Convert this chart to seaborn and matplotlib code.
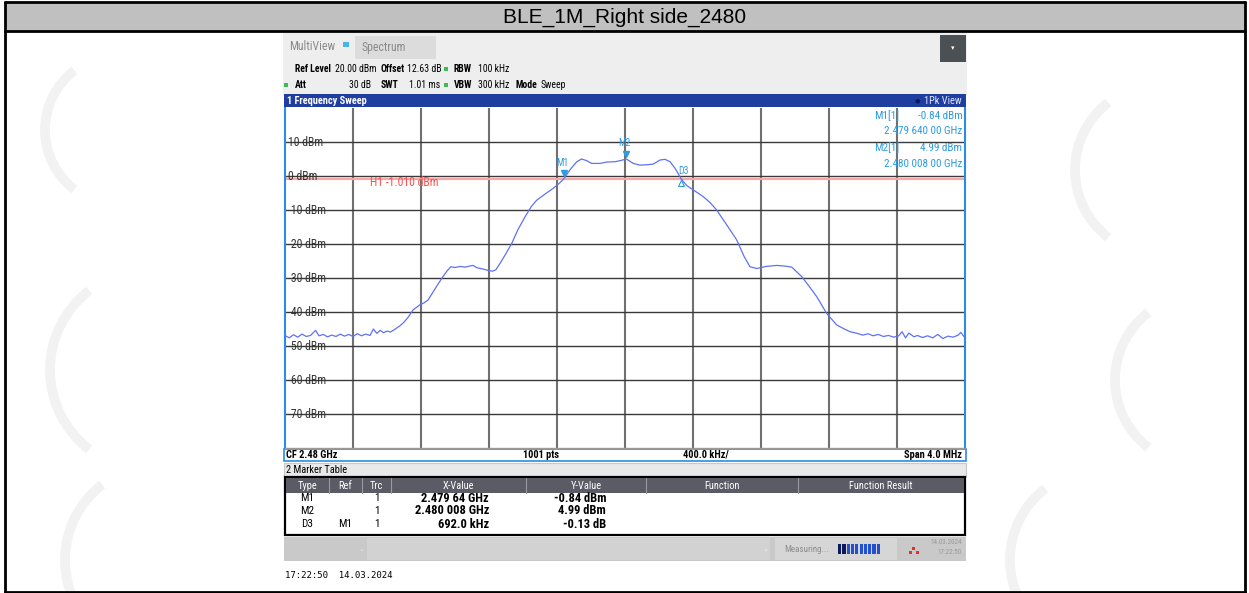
import matplotlib
matplotlib.use('Agg')
import matplotlib.pyplot as plt
import seaborn as sns
from matplotlib.patches import Rectangle, Arc
from matplotlib.lines import Line2D

# trace: offset from CF 2.48 GHz in MHz, level in dBm
trace_offset_mhz = [
    -2.00, -1.975, -1.95, -1.925, -1.90, -1.875, -1.85, -1.82, -1.80, -1.775,
    -1.75, -1.725, -1.70, -1.675, -1.65, -1.625, -1.60, -1.575, -1.55, -1.525,
    -1.50, -1.48, -1.46, -1.44, -1.42, -1.40, -1.38, -1.36,
    -1.325, -1.30, -1.275, -1.247, -1.225, -1.208, -1.185, -1.159, -1.13, -1.10,
    -1.071, -1.045, -1.024, -1.00, -0.97, -0.94, -0.915, -0.894, -0.87, -0.84,
    -0.81, -0.78, -0.76, -0.735, -0.70, -0.666, -0.63, -0.588, -0.55, -0.519,
    -0.47, -0.422, -0.39, -0.36, -0.324, -0.284, -0.255, -0.225, -0.196, -0.147,
    -0.108, -0.059, -0.029, 0.008, 0.049, 0.088, 0.128, 0.166, 0.206, 0.235,
    0.265, 0.294, 0.332, 0.365, 0.402, 0.461, 0.50, 0.539, 0.60, 0.657,
    0.70, 0.735, 0.775, 0.83, 0.892, 0.94, 0.981, 1.04, 1.09, 1.128,
    1.186, 1.245, 1.29, 1.324,
    1.36, 1.40, 1.43, 1.46, 1.49, 1.52, 1.55, 1.58, 1.61, 1.63,
    1.65, 1.67, 1.70, 1.72, 1.75, 1.78, 1.81, 1.84, 1.87, 1.90,
    1.93, 1.96, 1.975, 2.00,
]
trace_dbm = [
    -46.9, -47.6, -46.7, -47.4, -46.5, -47.2, -46.9, -45.4, -47.0, -46.6,
    -47.3, -46.8, -47.2, -46.5, -47.1, -46.6, -47.2, -46.4, -47.0, -46.5,
    -46.9, -45.0, -46.3, -45.4, -46.1, -45.6, -45.9, -45.3,
    -44.1, -43.0, -41.5, -39.4, -38.6, -37.9, -37.4, -36.5, -34.2, -31.8,
    -29.6, -27.8, -26.7, -26.9, -26.6, -26.8, -26.5, -26.3, -27.0, -27.3,
    -27.7, -28.0, -27.6, -25.7, -22.8, -19.8, -15.8, -12.0, -8.9, -7.1,
    -5.3, -3.6, -2.3, -0.84, 1.8, 4.2, 5.0, 4.5, 3.7, 3.7,
    4.1, 4.2, 4.5, 4.99, 3.7, 3.2, 3.3, 3.5, 4.7, 4.9,
    4.2, 2.3, -0.97, -2.9, -4.1, -6.1, -7.8, -10.0, -14.5, -18.8,
    -23.6, -26.7, -27.2, -26.6, -26.3, -26.5, -26.8, -29.6, -32.9, -35.5,
    -40.4, -43.8, -45.0, -45.8,
    -46.2, -46.8, -46.4, -47.0, -46.6, -47.2, -46.9, -47.4, -47.0, -45.8,
    -47.6, -46.2, -47.3, -46.9, -47.5, -47.0, -47.6, -46.6, -47.8, -47.1,
    -47.4, -46.8, -46.0, -47.6,
]

level_ticks = [10, 0, -10, -20, -30, -40, -50, -60, -70]
h1_level = -1.010

marker_names = ['M1', 'M2', 'D3']
marker_offset = [-0.36, 0.008, 0.332]
marker_dbm = [-0.84, 4.99, -0.97]

table_type = ['M1', 'M2', 'D3']
table_ref = ['', '', 'M1']
table_trc = ['1', '1', '1']
table_x = ['2.479 64 GHz', '2.480 008 GHz', '692.0 kHz']
table_y = ['-0.84 dBm', '4.99 dBm', '-0.13 dB']
table_head = ['Type', 'Ref', 'Trc', 'X-Value', 'Y-Value', 'Function', 'Function Result']

sns.set_theme(style='white')
narrow = ['Roboto Condensed', 'Archivo Narrow', 'Liberation Sans Narrow', 'Roboto', 'DejaVu Sans']
plt.rcParams['font.family'] = narrow

W, H = 1249, 593
fig = plt.figure(figsize=(W / 100, H / 100), dpi=100)
fig.patch.set_facecolor('white')


def box(x0, y0, x1, y1, fc='none', ec='none', lw=0, z=1):
    fig.add_artist(Rectangle((x0 / W, 1 - y1 / H), (x1 - x0) / W, (y1 - y0) / H,
                             transform=fig.transFigure, fc=fc, ec=ec, lw=lw, zorder=z))


def line(x0, y0, x1, y1, color, lw=1.0, z=2):
    fig.add_artist(Line2D([x0 / W, x1 / W], [1 - y0 / H, 1 - y1 / H],
                          transform=fig.transFigure, color=color, lw=lw, zorder=z))


def label(x, y, s, size=7, color='black', ha='left', weight='normal', z=6, **kw):
    fig.text(x / W, 1 - y / H, s, fontsize=size, color=color, ha=ha, va='center',
             fontweight=weight, zorder=z, **kw)


# faint watermark swooshes (logo shapes, no text)
for cx, cy, d in [(120, 130, 150), (150, 370, 200), (160, 560, 190),
                  (1160, 170, 170), (1200, 380, 170), (1100, 560, 180)]:
    fig.add_artist(Arc((cx / W, 1 - cy / H), d / W, d / H, angle=0, theta1=110, theta2=250,
                       transform=fig.transFigure, color='#f2f2f2', lw=7, zorder=0))

# outer frame + title bar
box(5, 2, 1245, 31, fc='#c0c0c0', z=1)
line(5, 2, 1245, 2, 'black', 2)
line(5, 31, 1245, 31, 'black', 2)
line(5, 2, 5, 593, 'black', 2)
line(1245, 2, 1245, 593, 'black', 2)
line(5, 592, 1245, 592, 'black', 2)
label(625, 17, 'BLE_1M_Right side_2480', size=15, ha='center',
      family=['Liberation Sans', 'DejaVu Sans'])

# instrument header
box(283, 33, 967, 95, fc='#eeeeee')
label(289, 47, 'MultiView', size=8.5, color='#8a8a8a')
box(343, 42, 349, 47, fc='#4ab3ea')
box(355, 36, 436, 59, fc='#dcdcdc')
label(362, 47, 'Spectrum', size=8.5, color='#8a8a8a')
box(940, 35, 966, 62, fc='#4b5054')
label(953, 48, '▾', size=5, color='white', ha='center', family=['DejaVu Sans'])

hs = 7
label(295, 69, 'Ref Level', size=hs, weight='bold')
label(335, 69, '20.00 dBm', size=hs)
label(381, 69, 'Offset', size=hs, weight='bold')
label(407, 69, '12.63 dB', size=hs)
box(444, 67, 448, 71, fc='#3cba54')
label(454, 69, 'RBW', size=hs, weight='bold')
label(478, 69, '100 kHz', size=hs)
box(284, 83, 288, 87, fc='#3cba54')
label(295, 85, 'Att', size=hs, weight='bold')
label(371, 85, '30 dB', size=hs, ha='right')
label(381, 85, 'SWT', size=hs, weight='bold')
label(409, 85, '1.01 ms', size=hs)
box(444, 83, 448, 87, fc='#3cba54')
label(454, 85, 'VBW', size=hs, weight='bold')
label(478, 85, '300 kHz', size=hs)
label(515, 85, 'Mode', size=hs, weight='bold')
label(541, 85, 'Sweep', size=hs)

# window title bar
box(284, 94, 966, 107, fc='#1f3ea0')
label(287, 100.5, '1 Frequency Sweep', size=7.5, color='white', weight='bold')
label(962, 100.5, '1Pk View', size=7.5, color='#dfe6ff', ha='right')
label(917, 100.5, '●', size=4.5, color='#0a1a60', ha='center', family=['DejaVu Sans'])

# spectrum axes
ax = fig.add_axes([285 / W, 1 - 448 / H, 680 / W, 340 / H])
ax.set_zorder(5)
ax.set_xlim(-2, 2)
ax.set_ylim(-80, 20)
ax.set_xticks([])
ax.set_yticks([])
for i in range(1, 10):
    ax.axvline(-2 + 0.4 * i, color='#707070', lw=1.5, zorder=1)
for v in level_ticks:
    ax.axhline(v, color='#3a3a3a', lw=1.0, zorder=1)
    ax.text(-1.982, v, f'{v} dBm', fontsize=8.5, color='#333333', va='center', zorder=3)
ax.axhline(h1_level, color='#f6a8a8', lw=1.6, zorder=2)
ax.text(-1.5, h1_level - 0.9, f'H1 {h1_level:.3f} dBm', fontsize=8.5, color='#ff4f4f',
        va='center', zorder=3)

sns.lineplot(x=trace_offset_mhz, y=trace_dbm, ax=ax, color='#5f72f3', lw=0.9,
             estimator=None, sort=False, zorder=4)

mk_color = '#2d9be0'
for name, xo, yv in zip(marker_names, marker_offset, marker_dbm):
    if name.startswith('M'):
        ax.plot(xo, yv + 1.6, marker='v', ms=4, color=mk_color, zorder=5)
        ax.text(xo - 0.01, yv + 4.6, name, fontsize=7, color=mk_color, ha='center',
                va='center', zorder=5)
    else:
        ax.plot(xo, yv - 1.2, marker='^', ms=4, mfc='none', mec=mk_color, mew=0.8, zorder=5)
        ax.text(xo + 0.01, yv + 2.4, name, fontsize=7, color=mk_color, ha='center',
                va='center', zorder=5)

# marker readout in the corner
ax.text(0.866, 0.976, 'M1[1]', transform=ax.transAxes, fontsize=8, color=mk_color, va='center')
ax.text(0.996, 0.976, '-0.84 dBm', transform=ax.transAxes, fontsize=8, color=mk_color,
        va='center', ha='right')
ax.text(0.996, 0.932, '2.479 640 00 GHz', transform=ax.transAxes, fontsize=8, color=mk_color,
        va='center', ha='right')
ax.text(0.866, 0.882, 'M2[1]', transform=ax.transAxes, fontsize=8, color=mk_color, va='center')
ax.text(0.996, 0.882, '4.99 dBm', transform=ax.transAxes, fontsize=8, color=mk_color,
        va='center', ha='right')
ax.text(0.996, 0.835, '2.480 008 00 GHz', transform=ax.transAxes, fontsize=8, color=mk_color,
        va='center', ha='right')

ax.spines['top'].set_visible(False)
ax.spines['left'].set_color('#2a8ce8')
ax.spines['left'].set_linewidth(1.5)
ax.spines['right'].set_color('#2a8ce8')
ax.spines['right'].set_linewidth(1.5)
ax.spines['bottom'].set_color('#9a9a9a')
ax.spines['bottom'].set_linewidth(1.0)

# footer of the sweep window
box(284, 449, 966, 461, fc='white', ec='#2a8ce8', lw=1.2)
label(286, 455, 'CF 2.48 GHz', size=7.5, weight='bold')
label(523, 455, '1001 pts', size=7.5, weight='bold')
label(683, 455, '400.0 kHz/', size=7.5, weight='bold')
label(962, 455, 'Span 4.0 MHz', size=7.5, weight='bold', ha='right')

# marker table
box(284, 463, 966, 477, fc='#e9e9e9', ec='#c8c8c8', lw=0.8)
label(286, 470, '2 Marker Table', size=7.5)
box(285, 477, 965, 535, fc='white', ec='black', lw=1.6)
box(286, 478, 964, 493, fc='#5b5b66')
col_edges = [286, 329, 362, 391, 526, 646, 798, 964]
for xe in col_edges[1:-1]:
    line(xe, 478, xe, 493, '#9a9aa2', 0.8, z=3)
for name, x0, x1 in zip(table_head, col_edges[:-1], col_edges[1:]):
    label((x0 + x1) / 2, 486, name, size=7.5, color='white', ha='center')
for i in range(3):
    yr = 498 + 13 * i
    label(307, yr, table_type[i], size=8, ha='center')
    label(345, yr, table_ref[i], size=8, ha='center')
    label(377, yr, table_trc[i], size=8, ha='center')
    label(489, yr, table_x[i], size=9, ha='right', weight='bold')
    label(606, yr, table_y[i], size=9, ha='right', weight='bold')

# status bar
box(284, 537, 966, 561, fc='#c9c9c9')
box(367, 538, 770, 560, fc='#d2d2d2')
label(362, 549, '⌄', size=5, color='#eeeeee', ha='center', family=['DejaVu Sans'])
label(765, 549, '⌄', size=5, color='#eeeeee', ha='center', family=['DejaVu Sans'])
box(775, 538, 897, 560, fc='#d6d6d6')
label(784, 549, 'Measuring...', size=6.5, color='#8c8c8c')
for k in range(10):
    bx = 838 + 4.3 * k
    box(bx, 544, bx + 3.3, 554, fc='#0b1a5c' if k < 2 else '#2350cf', z=3)
box(912, 547, 915, 550, fc='#e03030', z=3)
box(909, 551, 912, 554, fc='#e03030', z=3)
box(916, 551, 919, 554, fc='#e03030', z=3)
label(962, 543, '14.03.2024', size=5, color='#9a9a9a', ha='right')
label(962, 553, '17:22:50', size=5, color='#9a9a9a', ha='right')

label(285, 576, '17:22:50  14.03.2024', size=6.5, family=['DejaVu Sans Mono'])

fig.savefig('out.png', dpi=100, facecolor='white')
